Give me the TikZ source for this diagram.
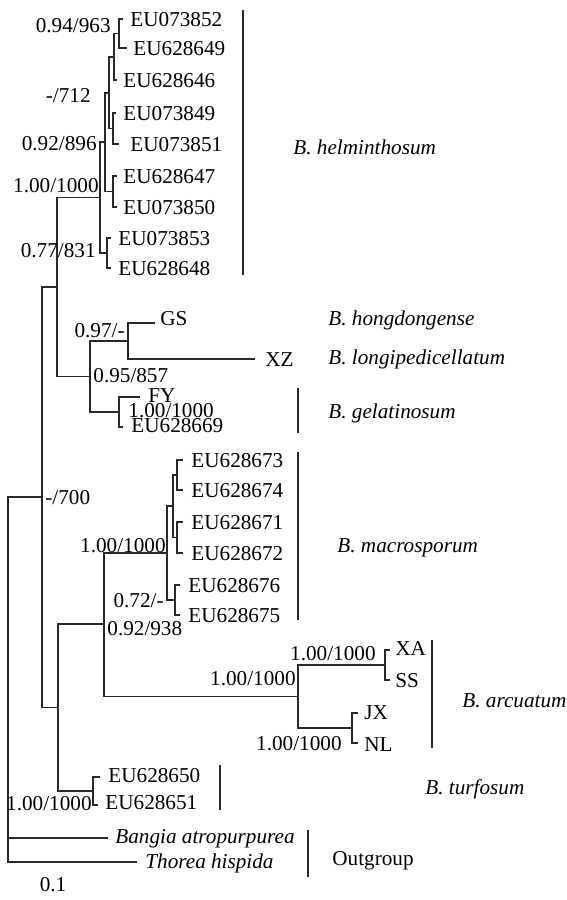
\documentclass[tikz,border=0pt]{standalone}
\usepackage{fontspec}
\setmainfont{Liberation Serif}
\definecolor{treeline}{RGB}{40,40,40}

\tikzset{
  branch/.style={line width=0.65pt, treeline},
  cladebar/.style={line width=0.65pt, treeline},
  leaf/.style={anchor=west, inner sep=0pt, text height=7pt, text depth=0pt,
               font=\fontsize{10.6}{12}\selectfont},
  taxon/.style={leaf, font=\fontsize{10.6}{12}\selectfont\itshape},
  boot/.style={inner sep=0pt, text height=7pt, text depth=0pt,
               font=\fontsize{10.6}{12}\selectfont},
}

\begin{document}
\begin{tikzpicture}[x=0.5pt, y=-0.5pt]
\useasboundingbox (0,0) rectangle (567,900);

%---------------------------------------
% Internal nodes
%---------------------------------------
\coordinate (A) at (119,33.5);
\coordinate (B) at (114,57);
\coordinate (D) at (113,128.5);
\coordinate (C) at (109,93);
\coordinate (F) at (113,191.5);
\coordinate (E) at (105,142);
\coordinate (H) at (107,253);
\coordinate (G) at (100,197.5);
\coordinate (K) at (128,341);
\coordinate (L) at (119,412);
\coordinate (J) at (90,376.5);
\coordinate (I) at (57,287);
\coordinate (P1) at (177,475);
\coordinate (P2) at (177,537.5);
\coordinate (P) at (173,506);
\coordinate (Q) at (175,600);
\coordinate (O) at (167,553);
\coordinate (S) at (385,665);
\coordinate (T) at (352,728);
\coordinate (R) at (298,696.5);
\coordinate (N) at (104,624);
\coordinate (U) at (93,791);
\coordinate (M) at (58,707.5);
\coordinate (V) at (42,497);
\coordinate (W) at (8,679.5);

%---------------------------------------
% Tips: B. helminthosum
%---------------------------------------
\coordinate (h1) at (123,19);  \node[leaf] (h1-l) at (130,19)  {EU073852};
\coordinate (h2) at (127,48);  \node[leaf] (h2-l) at (133,48)  {EU628649};
\coordinate (h3) at (117,80);  \node[leaf] (h3-l) at (123,80)  {EU628646};
\coordinate (h4) at (116,113); \node[leaf] (h4-l) at (123,113) {EU073849};
\coordinate (h5) at (119,144); \node[leaf] (h5-l) at (130,144) {EU073851};
\coordinate (h6) at (117,176); \node[leaf] (h6-l) at (123,176) {EU628647};
\coordinate (h7) at (117,207); \node[leaf] (h7-l) at (123,207) {EU073850};
\coordinate (h8) at (111,238); \node[leaf] (h8-l) at (118,238) {EU073853};
\coordinate (h9) at (111,268); \node[leaf] (h9-l) at (118,268) {EU628648};

% GS, XZ, gelatinosum
\coordinate (gs) at (155,323); \node[leaf] (gs-l) at (160,318) {GS};
\coordinate (xz) at (255,359); \node[leaf] (xz-l) at (265,359) {XZ};
\coordinate (fy) at (140,397); \node[leaf] (fy-l) at (148,395) {FY};
\coordinate (g2) at (123,427); \node[leaf] (g2-l) at (131,425) {EU628669};

% B. macrosporum
\coordinate (m1) at (183,460); \node[leaf] (m1-l) at (191,460) {EU628673};
\coordinate (m2) at (183,490); \node[leaf] (m2-l) at (191,490) {EU628674};
\coordinate (m3) at (183,522); \node[leaf] (m3-l) at (191,522) {EU628671};
\coordinate (m4) at (183,553); \node[leaf] (m4-l) at (191,553) {EU628672};
\coordinate (m5) at (180,585); \node[leaf] (m5-l) at (188,585) {EU628676};
\coordinate (m6) at (180,615); \node[leaf] (m6-l) at (188,615) {EU628675};

% B. arcuatum
\coordinate (xa) at (390,650); \node[leaf] (xa-l) at (395,648) {XA};
\coordinate (ss) at (390,680); \node[leaf] (ss-l) at (395,680) {SS};
\coordinate (jx) at (358,713); \node[leaf] (jx-l) at (364,712) {JX};
\coordinate (nl) at (358,743); \node[leaf] (nl-l) at (364,744) {NL};

% B. turfosum and outgroup
\coordinate (t1) at (100,777); \node[leaf] (t1-l) at (108,775) {EU628650};
\coordinate (t2) at (98,805);  \node[leaf] (t2-l) at (105,802) {EU628651};
\coordinate (ba) at (108,838); \node[taxon] (ba-l) at (115,836) {Bangia atropurpurea};
\coordinate (th) at (137,862); \node[taxon] (th-l) at (145,861) {Thorea hispida};

%---------------------------------------
% Branches
%---------------------------------------
\draw[branch] (A) |- (h1) (A) |- (h2);
\draw[branch] (B) |- (A)  (B) |- (h3);
\draw[branch] (D) |- (h4) (D) |- (h5);
\draw[branch] (C) |- (B)  (C) |- (D);
\draw[branch] (F) |- (h6) (F) |- (h7);
\draw[branch] (E) |- (C)  (E) |- (F);
\draw[branch] (H) |- (h8) (H) |- (h9);
\draw[branch] (G) |- (E)  (G) |- (H);
\draw[branch] (K) |- (gs) (K) |- (xz);
\draw[branch] (L) |- (fy) (L) |- (g2);
\draw[branch] (J) |- (K)  (J) |- (L);
\draw[branch] (I) |- (G)  (I) |- (J);
\draw[branch] (P1) |- (m1) (P1) |- (m2);
\draw[branch] (P2) |- (m3) (P2) |- (m4);
\draw[branch] (P) |- (P1) (P) |- (P2);
\draw[branch] (Q) |- (m5) (Q) |- (m6);
\draw[branch] (O) |- (P)  (O) |- (Q);
\draw[branch] (S) |- (xa) (S) |- (ss);
\draw[branch] (T) |- (jx) (T) |- (nl);
\draw[branch] (R) |- (S)  (R) |- (T);
\draw[branch] (N) |- (O)  (N) |- (R);
\draw[branch] (U) |- (t1) (U) |- (t2);
\draw[branch] (M) |- (N)  (M) |- (U);
\draw[branch] (V) |- (I)  (V) |- (M);
\draw[branch] (W) |- (V)  (W) |- (ba) (W) |- (th);

%---------------------------------------
% Support values (PP/BP)
%---------------------------------------
\node[boot, anchor=east] (sA) at (111,25)  {0.94/963};
\node[boot, anchor=east] (sC) at (91,95)   {-/712};
\node[boot, anchor=east] (sE) at (97,143)  {0.92/896};
\node[boot, anchor=east] (sG) at (99,185)  {1.00/1000};
\node[boot, anchor=east] (sH) at (96,250)  {0.77/831};
\node[boot, anchor=east] (sK) at (125,330) {0.97/-};
\node[boot, anchor=west] (sJ) at (93,375)  {0.95/857};
\node[boot, anchor=west] (sL) at (128,410) {1.00/1000};
\node[boot, anchor=west] (sV) at (45,497)  {-/700};
\node[boot, anchor=east] (sO) at (166,545) {1.00/1000};
\node[boot, anchor=east] (sQ) at (164,600) {0.72/-};
\node[boot, anchor=west] (sN) at (107,628) {0.92/938};
\node[boot, anchor=east] (sS) at (376,653) {1.00/1000};
\node[boot, anchor=east] (sR) at (296,678) {1.00/1000};
\node[boot, anchor=east] (sT) at (342,743) {1.00/1000};
\node[boot, anchor=east] (sU) at (92,803)  {1.00/1000};
\node[boot] (scale) at (53,884) {0.1};

%---------------------------------------
% Clade bars and names
%---------------------------------------
\draw[cladebar] (243,10) -- (243,275);
\draw[cladebar] (298,388) -- (298,433);
\draw[cladebar] (298,452) -- (298,620);
\draw[cladebar] (432,640) -- (432,748);
\draw[cladebar] (220,765) -- (220,810);
\draw[cladebar] (308,830) -- (308,877);

\node[taxon] (helm) at (293,147) {B. helminthosum};
\node[taxon] (hong) at (328,318) {B. hongdongense};
\node[taxon] (long) at (328,357) {B. longipedicellatum};
\node[taxon] (gela) at (328,411) {B. gelatinosum};
\node[taxon] (macr) at (337,545) {B. macrosporum};
\node[taxon] (arcu) at (462,700) {B. arcuatum};
\node[taxon] (turf) at (425,787) {B. turfosum};
\node[leaf]  (outg) at (332,858) {Outgroup};

\end{tikzpicture}
\end{document}
